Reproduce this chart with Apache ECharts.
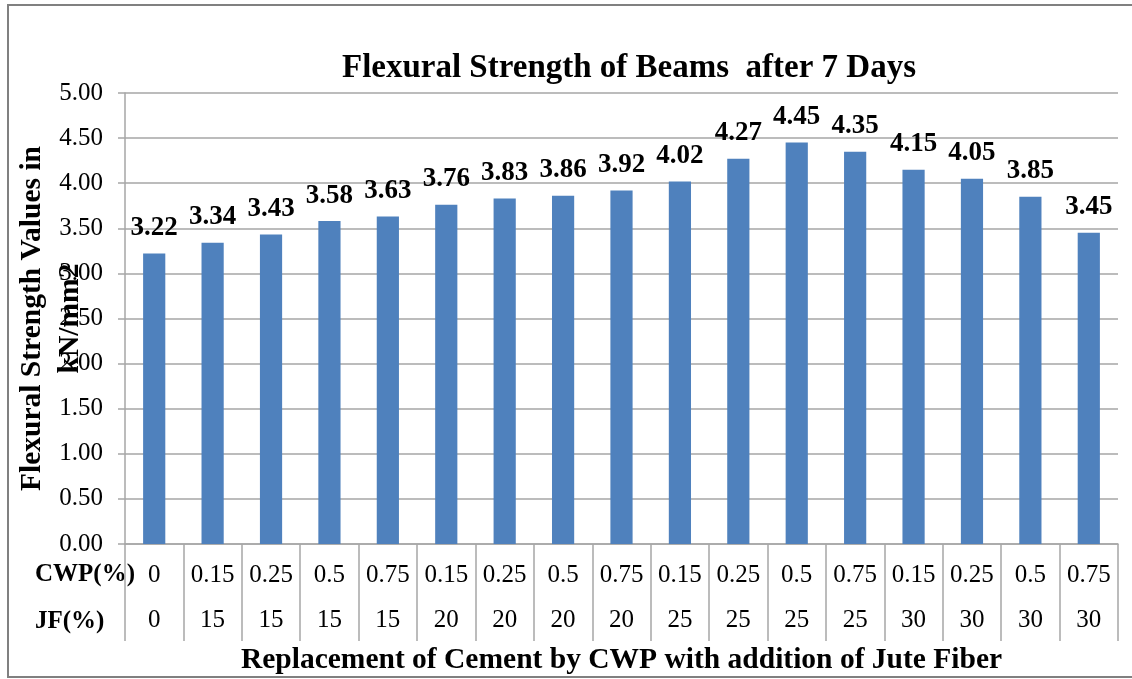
<!DOCTYPE html>
<html>
<head>
<meta charset="utf-8">
<script src="https://cdn.jsdelivr.net/npm/echarts@6/dist/echarts.min.js"></script>
<style>
html,body{margin:0;padding:0;background:#fff;}
#chart{width:1132px;height:679px;}
</style>
</head>
<body>
<div id="chart"></div>
<script>
var cwp = ['0','0.15','0.25','0.5','0.75','0.15','0.25','0.5','0.75','0.15','0.25','0.5','0.75','0.15','0.25','0.5','0.75'];
var jf = ['0','15','15','15','15','20','20','20','20','25','25','25','25','30','30','30','30'];
var strength = [3.22,3.34,3.43,3.58,3.63,3.76,3.83,3.86,3.92,4.02,4.27,4.45,4.35,4.15,4.05,3.85,3.45];
var yTicks = {min:0, max:5, interval:0.5};
var rowHeaders = ['CWP(%)','JF(%)'];

var serif = '"Liberation Serif","Times New Roman",serif';
var chart = echarts.init(document.getElementById('chart'));
chart.setOption({
  animation:false,
  backgroundColor:'#fff',
  title:{
    text:'Flexural Strength of Beams  after 7 Days',
    left:624, top:47, textAlign:'center',
    textStyle:{fontFamily:serif, fontWeight:'bold', fontSize:33, color:'#000'}
  },
  grid:{left:125, right:14, top:93, bottom:135, outerBoundsMode:'none', containLabel:false},
  xAxis:[{
    type:'category', data:cwp, position:'bottom',
    axisLine:{lineStyle:{color:'#A6A6A6', width:1.5}},
    axisTick:{show:true, interval:0, length:97, lineStyle:{color:'#A6A6A6', width:1.5}},
    axisLabel:{interval:0, margin:19, fontFamily:serif, fontSize:25, color:'#000'},
    name:'Replacement of Cement by CWP with addition of Jute Fiber',
    nameLocation:'middle', nameGap:101, nameMoveOverlap:false,
    nameTextStyle:{fontFamily:serif, fontWeight:'bold', fontSize:29.5, color:'#000'}
  },{
    type:'category', data:jf, position:'bottom',
    axisLine:{show:false}, axisTick:{show:false},
    axisLabel:{interval:0, margin:64, fontFamily:serif, fontSize:25, color:'#000'}
  }],
  yAxis:{
    type:'value', min:yTicks.min, max:yTicks.max, interval:yTicks.interval,
    axisLine:{show:true, lineStyle:{color:'#A6A6A6', width:1.5}},
    axisTick:{show:true, length:7, lineStyle:{color:'#A6A6A6', width:1.5}},
    splitLine:{lineStyle:{color:'#A6A6A6', width:1.5}},
    axisLabel:{margin:22, fontFamily:serif, fontSize:25, color:'#000',
      formatter:function(v){return v.toFixed(2);}},
    name:'Flexural Strength Values in\nkN/mm2',
    nameLocation:'middle', nameGap:36, nameRotate:90, nameMoveOverlap:false,
    nameTextStyle:{fontFamily:serif, fontWeight:'bold', fontSize:29.5, color:'#000', lineHeight:38}
  },
  graphic:[
    {type:'rect', shape:{x:8, y:5, width:1140, height:672}, style:{fill:'none', stroke:'#808080', lineWidth:2}, silent:true},
    {type:'text', left:35, top:562, style:{text:rowHeaders[0], font:'bold 25px '+serif, fill:'#000'}},
    {type:'text', left:35, top:609, style:{text:rowHeaders[1], font:'bold 25px '+serif, fill:'#000'}}
  ],
  series:[{
    type:'bar', data:strength, barWidth:'38%',
    itemStyle:{color:'#4F81BD'},
    label:{show:true, position:'top', distance:12, fontFamily:serif, fontWeight:'bold', fontSize:27, color:'#000',
      formatter:function(p){return p.value.toFixed(2);}}
  }]
});
</script>
</body>
</html>
